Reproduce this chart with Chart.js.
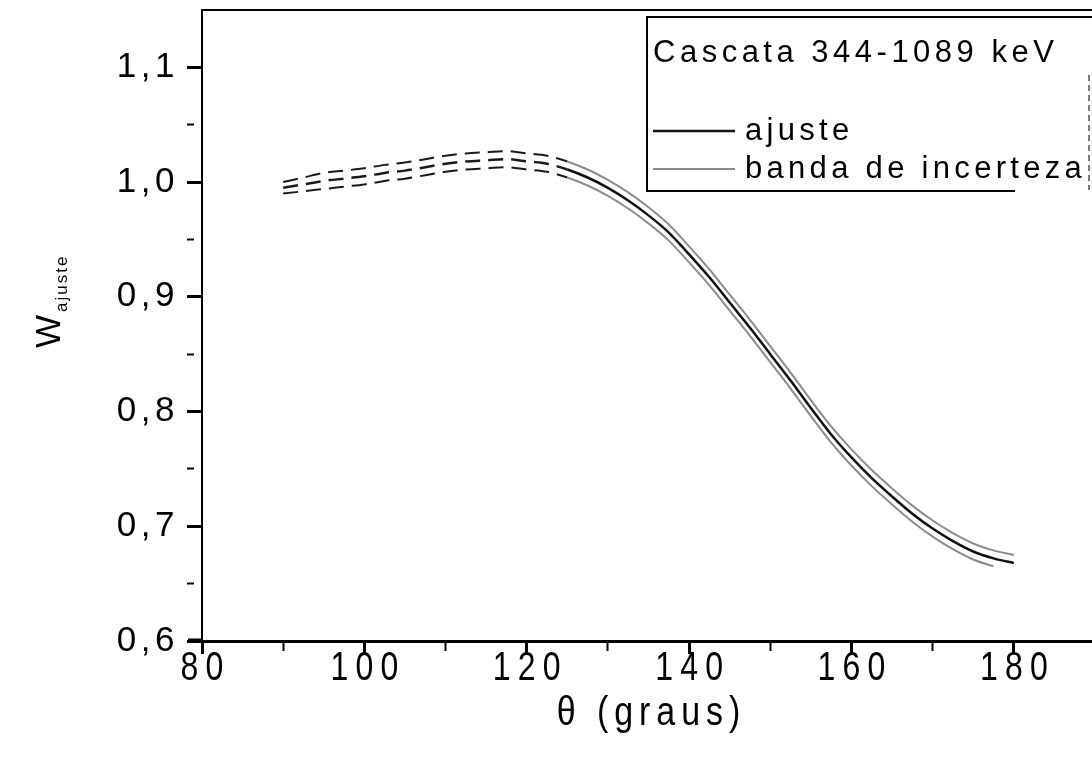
<!DOCTYPE html>
<html>
<head>
<meta charset="utf-8">
<script src="https://cdn.jsdelivr.net/npm/chart.js@4/dist/chart.umd.min.js"></script>
<style>
  html, body { margin: 0; padding: 0; background: #fff; overflow: hidden; width: 1092px; height: 758px; }
  #wrap { position: relative; width: 1100px; height: 758px; }
</style>
</head>
<body>
<div id="wrap"><canvas id="c"></canvas></div>
<script>
// Angular correlation fit, cascade 344-1089 keV
const theta = [90, 92.5, 95, 97.5, 100, 102.5, 105, 107.5, 110, 112.5, 115, 117.5, 120, 122.5,
               125, 127.5, 130, 132.5, 135, 137.5, 140, 142.5, 145, 147.5, 150, 152.5, 155, 157.5,
               160, 162.5, 165, 167.5, 170, 172.5, 175, 177.5, 180];

const ajuste = [0.995, 0.998, 1.001, 1.003, 1.005, 1.008, 1.010, 1.013, 1.016, 1.018, 1.019, 1.020, 1.018, 1.016,
                1.011, 1.004, 0.995, 0.984, 0.971, 0.956, 0.937, 0.917, 0.895, 0.873, 0.850, 0.827, 0.803, 0.780,
                0.760, 0.742, 0.726, 0.711, 0.698, 0.687, 0.678, 0.672, 0.668];

const bandaSup = [1.000, 1.004, 1.008, 1.010, 1.012, 1.015, 1.017, 1.020, 1.023, 1.025, 1.026, 1.027, 1.025, 1.023,
                  1.018, 1.011, 1.002, 0.991, 0.978, 0.963, 0.944, 0.924, 0.902, 0.880, 0.857, 0.834, 0.810, 0.787,
                  0.767, 0.749, 0.733, 0.718, 0.705, 0.694, 0.685, 0.679, 0.675];

const bandaInf = [0.990, 0.992, 0.994, 0.996, 0.998, 1.001, 1.003, 1.006, 1.009, 1.011, 1.012, 1.013, 1.011, 1.009,
                  1.004, 0.997, 0.988, 0.977, 0.964, 0.949, 0.930, 0.910, 0.888, 0.866, 0.843, 0.820, 0.796, 0.773,
                  0.753, 0.735, 0.719, 0.704, 0.691, 0.680, 0.671, 0.665, null];

const xLabelled = [80, 100, 120, 140, 160, 180];
const yLabelled = [0.6, 0.7, 0.8, 0.9, 1.0, 1.1];

const legendTitle = 'Cascata 344-1089 keV';
const xTitle = 'θ (graus)';
const yTitleMain = 'W';
const yTitleSub = 'ajuste';

const FONT = "'Liberation Sans', Arial, sans-serif";

const pts = arr => theta.map((t, i) => ({ x: t, y: arr[i] }));
const near = (v, list) => list.some(l => Math.abs(l - v) < 1e-6);

// early part of each curve is drawn broken
const dashedPart = c => c.p0.parsed.x < 123;

function lineDataset(label, arr, color, width, order) {
  return {
    label,
    order,
    data: pts(arr),
    borderColor: color,
    borderWidth: width,
    pointRadius: 0,
    cubicInterpolationMode: 'monotone',
    spanGaps: false,
    segment: {
      borderColor: c => dashedPart(c) ? '#1a1a1a' : undefined,
      borderDash: c => dashedPart(c) ? [15, 8] : undefined
    }
  };
}

// condensed, spaced lettering for the bottom axis labels and title
function styleBottomAxis(scale) {
  if (scale._styled) return;
  scale._styled = true;
  scale.drawLabels = function (area) {
    const ctx = this.ctx;
    const items = this.getLabelItems(area);
    const sp = 9, sx = 0.8;
    ctx.save();
    ctx.fillStyle = '#000';
    ctx.font = '40px ' + FONT;
    ctx.letterSpacing = sp + 'px';
    ctx.textAlign = 'center';
    ctx.textBaseline = 'alphabetic';
    for (const it of items) {
      if (!it.label) continue;
      const tx = it.options.translation[0];
      ctx.save();
      ctx.translate(tx + sp * sx / 2, this.top + 39);
      ctx.scale(sx, 1);
      ctx.fillText(it.label, 0, 0);
      ctx.restore();
    }
    ctx.restore();
  };
  scale.drawTitle = function () {
    const ctx = this.ctx;
    const sp = 7, sx = 0.85;
    ctx.save();
    ctx.fillStyle = '#000';
    ctx.font = '40px ' + FONT;
    ctx.letterSpacing = sp + 'px';
    ctx.textAlign = 'center';
    ctx.textBaseline = 'alphabetic';
    ctx.translate((this.left + this.right) / 2 + sp * sx / 2, 725);
    ctx.scale(sx, 1);
    ctx.fillText(this.options.title.text, 0, 0);
    ctx.restore();
  };
}

function spacedLeftAxis(scale, spacing) {
  if (scale._styled) return;
  scale._styled = true;
  const orig = scale.drawLabels.bind(scale);
  scale.drawLabels = function (area) {
    const ctx = this.ctx; ctx.save(); ctx.letterSpacing = spacing; orig(area); ctx.restore();
  };
}

const decor = {
  id: 'decor',
  beforeDraw(chart) {
    styleBottomAxis(chart.scales.x);
    spacedLeftAxis(chart.scales.y, '4.5px');
  },
  afterDraw(chart) {
    const ctx = chart.ctx;
    const area = chart.chartArea;
    ctx.save();

    // bottom axis line runs slightly past the vertical axis
    ctx.strokeStyle = '#000';
    ctx.lineWidth = 3;
    ctx.beginPath();
    ctx.moveTo(188, area.bottom - 1);
    ctx.lineTo(area.left, area.bottom - 1);
    ctx.stroke();

    // legend frame
    ctx.lineWidth = 2;
    ctx.beginPath();
    ctx.moveTo(1100, 17); ctx.lineTo(647, 17); ctx.lineTo(647, 191); ctx.lineTo(1015, 191);
    ctx.stroke();
    ctx.strokeStyle = '#777';
    ctx.setLineDash([6, 4]);
    ctx.beginPath();
    ctx.moveTo(1089, 75); ctx.lineTo(1089, 190);
    ctx.stroke();
    ctx.setLineDash([]);

    // legend entries
    ctx.fillStyle = '#000';
    ctx.textBaseline = 'alphabetic';
    ctx.textAlign = 'left';
    ctx.font = '31px ' + FONT;
    ctx.letterSpacing = '4.5px';
    ctx.fillText(legendTitle, 653, 62);

    const entries = [];
    chart.data.datasets.forEach(ds => {
      if (!entries.some(e => e.label === ds.label)) entries.push(ds);
    });
    const rows = [131, 169];
    entries.forEach((ds, i) => {
      const y = rows[i];
      ctx.strokeStyle = ds.borderColor;
      ctx.lineWidth = ds.borderWidth;
      ctx.beginPath();
      ctx.moveTo(653, y); ctx.lineTo(735, y);
      ctx.stroke();
      ctx.fillStyle = '#000';
      ctx.letterSpacing = '4.3px';
      ctx.fillText(ds.label, 745, y + 9);
    });

    // vertical axis title with subscript
    ctx.translate(60, 348);
    ctx.rotate(-Math.PI / 2);
    ctx.letterSpacing = '0px';
    ctx.font = '35px ' + FONT;
    ctx.fillText(yTitleMain, 0, 0);
    ctx.font = '17px ' + FONT;
    ctx.letterSpacing = '2px';
    ctx.fillText(yTitleSub, 36, 7);

    ctx.restore();
  }
};

const isMajorX = c => c.tick && near(c.tick.value, [80, 100, 120, 140, 160, 180, 200]);
const isMajorY = c => c.tick && Math.abs(c.tick.value * 10 - Math.round(c.tick.value * 10)) < 1e-6;

new Chart(document.getElementById('c'), {
  type: 'line',
  data: {
    datasets: [
      lineDataset('ajuste', ajuste, '#111', 2.5, 0),
      lineDataset('banda de incerteza', bandaSup, '#8c8c8c', 2, 1),
      lineDataset('banda de incerteza', bandaInf, '#8c8c8c', 2, 2)
    ]
  },
  options: {
    responsive: true,
    maintainAspectRatio: false,
    animation: false,
    devicePixelRatio: 1,
    layout: { padding: { top: 10, left: 0, right: 5, bottom: 0 } },
    plugins: { legend: { display: false }, tooltip: { enabled: false } },
    scales: {
      x: {
        type: 'linear',
        position: 'bottom',
        min: 80,
        max: 190,
        ticks: {
          stepSize: 10,
          includeBounds: false,
          autoSkip: false,
          maxRotation: 0,
          color: '#000',
          padding: 2,
          font: { family: FONT, size: 34 },
          callback: v => near(v, xLabelled) ? String(v) : ''
        },
        grid: {
          drawOnChartArea: false,
          drawTicks: true,
          tickLength: 13,
          tickColor: '#000',
          tickWidth: c => isMajorX(c) ? 3 : 2,
          tickBorderDash: c => isMajorX(c) ? [] : [8, 60]
        },
        border: { display: true, color: '#000', width: 3 },
        title: { display: true, text: xTitle, color: '#000', font: { family: FONT, size: 32 }, padding: 0 },
        afterFit: s => { s.height = 117; s.paddingLeft = 0; s.paddingRight = 0; }
      },
      xTop: {
        type: 'linear',
        position: 'top',
        min: 80,
        max: 190,
        ticks: { display: false },
        grid: { drawOnChartArea: false, drawTicks: false },
        border: { display: true, color: '#000', width: 2 },
        afterFit: s => { s.height = 0; s.paddingLeft = 0; s.paddingRight = 0; }
      },
      y: {
        type: 'linear',
        min: 0.6,
        max: 1.15,
        ticks: {
          stepSize: 0.05,
          autoSkip: false,
          color: '#000',
          padding: 8,
          font: { family: FONT, size: 35 },
          callback: v => near(v, yLabelled) ? v.toFixed(1).replace('.', ',') : ''
        },
        grid: {
          drawOnChartArea: false,
          drawTicks: true,
          tickLength: 15,
          tickColor: c => (c.tick && c.tick.value > 1.12) ? 'rgba(0,0,0,0)' : '#000',
          tickWidth: c => isMajorY(c) ? 3 : 2,
          tickBorderDash: c => isMajorY(c) ? [] : [7, 60]
        },
        border: { display: true, color: '#000', width: 2 },
        afterFit: s => { s.width = 202; s.paddingTop = 0; s.paddingBottom = 0; }
      }
    }
  },
  plugins: [decor]
});
</script>
</body>
</html>
